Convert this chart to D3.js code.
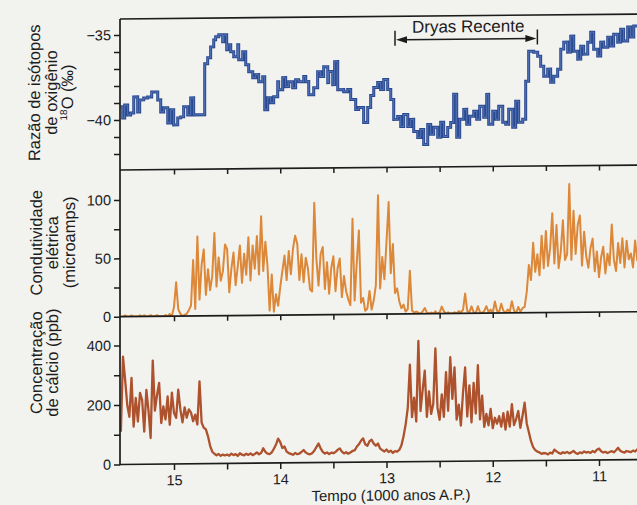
<!DOCTYPE html>
<html>
<head>
<meta charset="utf-8">
<script src="https://cdn.jsdelivr.net/npm/d3@7"></script>
<style>
  html, body { margin: 0; padding: 0; background: #f2f2ef; }
  svg { display: block; font-family: "Liberation Sans", Arial, Helvetica, sans-serif; }
</style>
</head>
<body>
<svg id="chart" width="637" height="505"></svg>
<script>
// ---- δ18O record: each step starts at isoAges[i] (kyr BP) with level isoValues[i] (‰)
const isoAges = [
  15.502,15.483,15.464,15.436,15.408,15.379,15.342,15.323,15.285,15.248,
  15.210,15.153,15.125,15.097,15.059,15.031,15.003,14.965,14.937,14.909,
  14.871,14.843,14.815,14.711,14.683,14.655,14.626,14.608,14.579,14.542,
  14.532,14.504,14.495,14.466,14.438,14.400,14.391,14.353,14.325,14.297,
  14.259,14.231,14.203,14.165,14.146,14.118,14.090,14.062,14.024,14.015,
  13.977,13.949,13.920,13.883,13.855,13.826,13.779,13.760,13.732,13.685,
  13.648,13.619,13.591,13.553,13.544,13.506,13.488,13.459,13.403,13.365,
  13.337,13.290,13.262,13.215,13.177,13.149,13.120,13.083,13.055,13.026,
  12.989,12.960,12.932,12.895,12.866,12.838,12.800,12.772,12.744,12.706,
  12.678,12.650,12.612,12.584,12.556,12.518,12.490,12.462,12.424,12.396,
  12.368,12.339,12.311,12.273,12.245,12.217,12.179,12.151,12.123,12.085,
  12.057,12.038,12.000,11.972,11.944,11.906,11.878,11.850,11.812,11.784,
  11.756,11.718,11.690,11.662,11.615,11.577,11.549,11.520,11.483,11.455,
  11.426,11.389,11.360,11.332,11.295,11.266,11.238,11.200,11.172,11.144,
  11.106,11.078,11.050,11.012,10.984,10.956,10.918,10.890,10.862,10.824,
  10.796,10.768,10.730,10.702,10.673
];
const isoValues = [
  -39.22,-39.88,-39.12,-39.71,-39.59,-38.65,-39.54,-38.83,-38.72,-38.66,
  -38.37,-38.84,-39.55,-39.31,-40.20,-39.43,-40.32,-39.91,-39.85,-39.26,
  -39.74,-38.74,-39.74,-36.74,-36.39,-35.75,-35.34,-35.16,-35.04,-35.46,
  -35.05,-35.93,-35.64,-36.05,-36.35,-35.64,-36.52,-36.06,-36.82,-37.24,
  -37.59,-37.41,-37.83,-37.54,-39.48,-38.77,-39.07,-38.72,-37.84,-38.31,
  -37.60,-38.13,-37.84,-38.20,-37.73,-37.85,-37.55,-37.85,-38.62,-38.21,
  -37.27,-37.56,-36.98,-37.92,-37.27,-38.04,-36.69,-38.34,-38.46,-38.34,
  -38.93,-39.52,-39.40,-40.29,-39.41,-38.70,-38.23,-37.94,-38.35,-37.77,
  -38.36,-38.95,-40.12,-39.95,-40.54,-39.84,-40.54,-40.13,-40.84,-41.20,
  -40.73,-41.61,-40.44,-41.02,-40.61,-41.20,-40.32,-41.15,-40.62,-40.33,
  -38.68,-41.21,-40.15,-39.57,-40.45,-39.98,-39.69,-40.16,-39.40,-40.05,
  -38.70,-40.46,-39.70,-40.17,-39.41,-40.35,-40.47,-39.59,-40.65,-39.12,
  -40.36,-40.18,-37.95,-36.19,-36.25,-36.49,-37.08,-37.66,-37.25,-38.02,
  -37.67,-37.26,-36.08,-35.67,-36.26,-35.32,-36.21,-36.68,-35.92,-36.39,
  -35.69,-35.10,-36.10,-36.51,-35.69,-35.99,-35.40,-35.93,-35.23,-35.70,
  -34.94,-35.64,-34.82,-35.41,-34.76
];
const isoRecordEnd = 10.60;

// ---- Conductivity (microamps) and calcium (ppb): one sample every 20 years from 15.50 kyr BP
const sampleStart = 15.50;
const sampleStep = 0.02;
const conductivity = [
  0,0,1,0,0,1,0,0,0,1,
  0,1,0,0,1,0,0,1,0,0,
  0,1,0,2,0,8,29,6,2,0,
  1,2,5,9,48,6,68,14,44,57,
  18,40,22,34,71,25,50,30,38,61,
  57,20,40,54,26,42,60,28,53,35,
  67,30,60,40,68,35,85,38,63,42,
  4,35,3,18,8,24,38,51,30,55,
  35,57,68,61,30,52,28,49,40,22,
  20,96,48,25,52,58,22,45,18,40,
  50,20,40,48,15,33,20,13,8,82,
  12,44,72,10,14,3,5,20,4,12,
  25,102,22,49,30,62,96,35,60,18,
  22,11,5,8,2,4,37,3,1,2,
  1,0,2,5,1,0,1,0,2,0,
  1,6,2,0,1,0,0,1,0,2,
  1,3,17,2,1,6,1,0,6,1,
  0,2,6,1,3,0,10,2,1,8,
  2,0,3,1,10,2,0,5,1,4,
  5,18,41,28,60,35,50,32,66,38,
  70,40,55,85,42,75,38,52,79,45,
  50,110,45,87,50,75,83,40,69,48,
  38,55,63,35,52,30,47,56,33,50,
  40,75,45,35,59,42,63,38,61,45,
  50,38,61,44,52,40
];
const calcium = [
  110,362,284,200,160,291,127,223,144,240,
  216,110,250,180,88,348,180,232,273,138,
  194,150,227,132,240,172,155,250,183,140,
  190,155,183,172,143,165,132,277,138,121,
  115,92,60,40,33,28,32,26,30,27,
  30,26,33,28,31,25,34,29,27,32,
  28,33,27,31,36,30,34,50,38,32,
  30,36,48,62,82,70,50,55,38,33,
  30,27,33,29,31,36,43,34,30,28,
  32,40,52,64,48,36,30,34,28,33,
  31,35,42,47,36,30,34,29,33,38,
  40,52,60,72,80,60,55,70,75,62,
  55,62,45,40,35,42,33,38,30,36,
  34,40,55,85,125,180,326,150,215,135,
  406,170,240,306,150,236,160,193,380,180,
  140,225,150,300,170,350,210,316,140,190,
  120,230,315,150,255,130,263,160,322,140,
  220,115,158,120,175,110,145,125,150,115,
  160,105,165,115,190,120,140,167,110,150,
  195,125,95,65,45,35,30,27,22,25,
  24,20,26,23,36,30,25,22,27,24,
  28,23,26,31,24,21,26,23,29,25,
  27,24,30,26,34,38,29,25,27,23,
  26,29,25,32,40,30,26,24,29,27,
  25,30,27,34,28,31
];

// ---- Axis ticks and labels
const timeTicks = [15, 14.5, 14, 13.5, 13, 12.5, 12, 11.5, 11];
const timeLabels = [15, 14, 13, 12, 11];
const isoTicks = [-35, -36, -37, -38, -39, -40, -41, -42];
const isoLabels = [-35, -40];
const condTicks = [0, 25, 50, 75, 100];
const condLabels = [0, 50, 100];
const caTicks = [0, 100, 200, 300, 400];
const caLabels = [0, 200, 400];

// ---- Younger Dryas interval (kyr BP)
const dryasInterval = [12.92, 11.58];
const dryasLabel = "Dryas Recente";

// ---- Layout
const left = 120, right = 640;
const band = { iso: [19, 170], cond: [170, 316.7], ca: [316.7, 464.5] };
const ink = "#1c1c1c";

const svg = d3.select("#chart");
// the whole figure sits slightly tilted on the page
const g = svg.append("g").attr("transform", "translate(0,1.15) skewY(-0.55)");

const x = d3.scaleLinear().domain([15, 11]).range([174, 599]);
const yIso = d3.scaleLinear().domain([-35, -40]).range([35, 120]);
const yCond = d3.scaleLinear().domain([0, 100]).range([316.7, 200]);
const yCa = d3.scaleLinear().domain([0, 400]).range([464.5, 345.5]);

const defs = svg.append("defs");
Object.entries(band).forEach(([k, [y0, y1]]) => {
  defs.append("clipPath").attr("id", "clip-" + k)
    .append("rect").attr("x", left).attr("y", y0 - 6).attr("width", right - left).attr("height", y1 - y0 + 6);
});

// ---- δ18O step line (dark outline with a lighter core)
const isoPts = isoAges.map((t, i) => ({ t, v: isoValues[i] }));
isoPts.push({ t: isoRecordEnd, v: isoValues[isoValues.length - 1] });
const isoLine = d3.line().x(d => x(d.t)).y(d => yIso(d.v)).curve(d3.curveStepAfter);
const isoG = g.append("g").attr("clip-path", "url(#clip-iso)");
isoG.append("path").datum(isoPts).attr("d", isoLine)
  .attr("fill", "none").attr("stroke", "#2a4990").attr("stroke-width", 3);
isoG.append("path").datum(isoPts).attr("d", isoLine)
  .attr("fill", "none").attr("stroke", "#5e7fbf").attr("stroke-width", 0.8);

// ---- sampled series
const ageOf = i => sampleStart - i * sampleStep;
const condLine = d3.line().x((d, i) => x(ageOf(i))).y(d => yCond(d));
g.append("g").attr("clip-path", "url(#clip-cond)")
  .append("path").datum(conductivity).attr("d", condLine)
  .attr("fill", "none").attr("stroke", "#dc8838").attr("stroke-width", 2).attr("stroke-linejoin", "round");

const caLine = d3.line().x((d, i) => x(ageOf(i))).y(d => yCa(d));
g.append("g").attr("clip-path", "url(#clip-ca)")
  .append("path").datum(calcium).attr("d", caLine)
  .attr("fill", "none").attr("stroke", "#ad522c").attr("stroke-width", 2.3).attr("stroke-linejoin", "round");

// ---- frame lines
const frame = g.append("g").attr("stroke", ink).attr("stroke-width", 1.7);
frame.append("line").attr("x1", left).attr("x2", left).attr("y1", band.iso[0]).attr("y2", band.ca[1] + 0.8);
[band.iso[0], band.iso[1], band.cond[1], band.ca[1]].forEach(yy => {
  frame.append("line").attr("x1", left).attr("x2", right).attr("y1", yy).attr("y2", yy);
});

// ---- y axes
function yAxis(scale, ticks, labels) {
  return d3.axisLeft(scale).tickValues(ticks).tickSize(6).tickPadding(3)
    .tickFormat(d => labels.includes(d) ? d3.format("")(d) : "");
}
function styleAxis(sel) {
  sel.select(".domain").remove();
  sel.selectAll(".tick line").attr("stroke", ink).attr("stroke-width", 1.5);
  sel.selectAll(".tick text").attr("fill", ink).attr("font-size", 14.5).attr("font-family", null);
}
g.append("g").attr("transform", `translate(${left},0)`).call(yAxis(yIso, isoTicks, isoLabels)).call(styleAxis);
g.append("g").attr("transform", `translate(${left},0)`).call(yAxis(yCond, condTicks, condLabels)).call(styleAxis);
g.append("g").attr("transform", `translate(${left},0)`).call(yAxis(yCa, caTicks, caLabels)).call(styleAxis);

// ---- time ticks on each panel boundary
[band.iso[1], band.cond[1]].forEach(yy => {
  g.append("g").attr("transform", `translate(0,${yy})`)
    .call(d3.axisBottom(x).tickValues(timeTicks).tickSize(5).tickFormat(""))
    .call(styleAxis);
});
g.append("g").attr("transform", `translate(0,${band.ca[1]})`)
  .call(d3.axisBottom(x).tickValues(timeTicks).tickSize(6).tickPadding(5)
    .tickFormat(d => timeLabels.includes(d) ? d3.format("")(d) : ""))
  .call(styleAxis);

g.append("text").attr("x", 391).attr("y", 503).attr("text-anchor", "middle")
  .attr("font-size", 15).attr("fill", ink).text("Tempo (1000 anos A.P.)");

// ---- panel titles (rotated)
function title(lines, cy) {
  lines.forEach(([bx, txt]) => {
    const t = g.append("text").attr("transform", `translate(${bx},${cy}) rotate(-90)`)
      .attr("text-anchor", "middle").attr("font-size", 16.5).attr("fill", ink);
    if (typeof txt === "string") t.text(txt);
    else txt(t);
  });
}
title([
  [40, "Razão de isótopos"],
  [56.5, "de oxigênio"],
  [73, t => {
    t.append("tspan").attr("font-size", 10).attr("dy", -6).text("18");
    t.append("tspan").attr("dy", 6).text("O (‰)");
  }]
], 92);
title([[41.5, "Condutividade"], [58, "elétrica"], [74.5, "(microamps)"]], 242);
title([[41.5, "Concentração"], [58, "de cálcio (ppb)"]], 362);

// ---- Younger Dryas marker
const dx0 = x(dryasInterval[0]), dx1 = x(dryasInterval[1]);
const ay = 42.5;
const dry = g.append("g").attr("fill", ink).attr("stroke", ink);
dry.append("line").attr("x1", dx0).attr("x2", dx0).attr("y1", ay - 9).attr("y2", ay + 6).attr("stroke-width", 1.5);
dry.append("line").attr("x1", dx1).attr("x2", dx1).attr("y1", ay - 9).attr("y2", ay + 6).attr("stroke-width", 1.5);
dry.append("line").attr("x1", dx0 + 8).attr("x2", dx1 - 8).attr("y1", ay).attr("y2", ay).attr("stroke-width", 1.4);
dry.append("path").attr("stroke", "none")
  .attr("d", `M${dx0 + 1},${ay} L${dx0 + 12},${ay - 3.5} L${dx0 + 12},${ay + 3.5} Z`);
dry.append("path").attr("stroke", "none")
  .attr("d", `M${dx1 - 1},${ay} L${dx1 - 12},${ay - 3.5} L${dx1 - 12},${ay + 3.5} Z`);
g.append("text").attr("x", (dx0 + dx1) / 2 + 2).attr("y", 35.5).attr("text-anchor", "middle")
  .attr("font-size", 17).attr("fill", ink).text(dryasLabel);
</script>
</body>
</html>
